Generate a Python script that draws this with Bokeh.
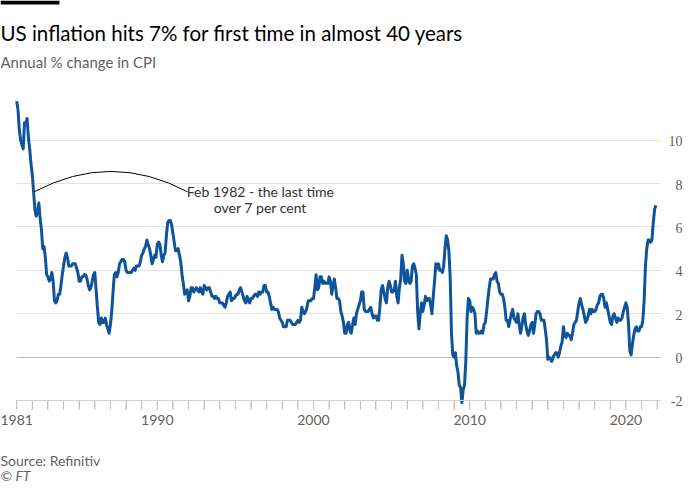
from bokeh.plotting import figure
from bokeh.models import (ColumnDataSource, FixedTicker, Label, LabelSet, BoxAnnotation, Grid)
from bokeh.embed import file_html
from bokeh.resources import INLINE

# ---- data: US CPI, annual % change, monthly Jan 1981 - Dec 2021 ----
start_year = 1981
cpi = [
    # 1981
    11.8, 11.4, 10.5, 10.0, 9.8, 9.6, 10.8, 10.8, 11.0, 10.1, 9.6, 8.9,
    # 1982
    8.4, 7.6, 6.8, 6.5, 6.7, 7.1, 6.4, 5.9, 5.0, 5.1, 4.6, 3.8,
    # 1983
    3.7, 3.5, 3.6, 3.9, 3.5, 2.6, 2.5, 2.6, 2.9, 2.9, 3.3, 3.8,
    # 1984
    4.2, 4.6, 4.8, 4.6, 4.2, 4.2, 4.2, 4.3, 4.3, 4.3, 4.1, 3.9,
    # 1985
    3.5, 3.5, 3.7, 3.7, 3.8, 3.8, 3.6, 3.3, 3.1, 3.2, 3.5, 3.8,
    # 1986
    3.9, 3.1, 2.3, 1.6, 1.5, 1.8, 1.6, 1.6, 1.8, 1.5, 1.3, 1.1,
    # 1987
    1.5, 2.1, 3.0, 3.8, 3.9, 3.7, 3.9, 4.3, 4.4, 4.5, 4.5, 4.4,
    # 1988
    4.0, 3.9, 3.9, 3.9, 3.9, 4.0, 4.1, 4.0, 4.2, 4.2, 4.2, 4.4,
    # 1989
    4.7, 4.8, 5.0, 5.1, 5.4, 5.2, 5.0, 4.7, 4.3, 4.5, 4.7, 4.6,
    # 1990
    5.2, 5.3, 5.2, 4.7, 4.4, 4.7, 4.8, 5.6, 6.2, 6.3, 6.3, 6.1,
    # 1991
    5.7, 5.3, 4.9, 4.9, 5.0, 4.7, 4.4, 3.8, 3.4, 2.9, 3.0, 3.1,
    # 1992
    2.6, 2.8, 3.2, 3.2, 3.0, 3.1, 3.2, 3.1, 3.0, 3.2, 3.0, 2.9,
    # 1993
    3.3, 3.2, 3.1, 3.2, 3.2, 3.0, 2.8, 2.8, 2.7, 2.8, 2.7, 2.7,
    # 1994
    2.5, 2.5, 2.5, 2.4, 2.3, 2.5, 2.8, 2.9, 3.0, 2.6, 2.7, 2.7,
    # 1995
    2.8, 2.9, 2.9, 3.1, 3.2, 3.0, 2.8, 2.6, 2.5, 2.8, 2.6, 2.5,
    # 1996
    2.7, 2.7, 2.8, 2.9, 2.9, 2.8, 3.0, 2.9, 3.0, 3.0, 3.3, 3.3,
    # 1997
    3.0, 3.0, 2.8, 2.5, 2.2, 2.3, 2.2, 2.2, 2.2, 2.1, 1.8, 1.7,
    # 1998
    1.6, 1.4, 1.4, 1.4, 1.7, 1.7, 1.7, 1.6, 1.5, 1.5, 1.5, 1.6,
    # 1999
    1.7, 1.6, 1.7, 2.3, 2.1, 2.0, 2.1, 2.3, 2.6, 2.6, 2.6, 2.7,
    # 2000
    2.7, 3.2, 3.8, 3.1, 3.2, 3.7, 3.7, 3.4, 3.5, 3.4, 3.4, 3.4,
    # 2001
    3.7, 3.5, 2.9, 3.3, 3.6, 3.2, 2.7, 2.7, 2.6, 2.1, 1.9, 1.6,
    # 2002
    1.1, 1.1, 1.5, 1.6, 1.2, 1.1, 1.5, 1.8, 1.5, 2.0, 2.2, 2.4,
    # 2003
    2.6, 3.0, 3.0, 2.2, 2.1, 2.1, 2.1, 2.2, 2.3, 2.0, 1.8, 1.9,
    # 2004
    1.9, 1.7, 1.7, 2.3, 3.1, 3.3, 3.0, 2.7, 2.5, 3.2, 3.5, 3.3,
    # 2005
    3.0, 3.0, 3.1, 3.5, 2.8, 2.5, 3.2, 3.6, 4.7, 4.3, 3.5, 3.4,
    # 2006
    4.0, 3.6, 3.4, 3.5, 4.2, 4.3, 4.1, 3.8, 2.1, 1.3, 2.0, 2.5,
    # 2007
    2.1, 2.4, 2.8, 2.6, 2.7, 2.7, 2.4, 2.0, 2.8, 3.5, 4.3, 4.1,
    # 2008
    4.3, 4.0, 4.0, 3.9, 4.2, 5.0, 5.6, 5.4, 4.9, 3.7, 1.1, 0.1,
    # 2009
    0.0, 0.2, -0.4, -0.7, -1.3, -1.4, -2.1, -1.5, -1.3, -0.2, 1.8, 2.7,
    # 2010
    2.6, 2.1, 2.3, 2.2, 2.0, 1.1, 1.2, 1.1, 1.1, 1.2, 1.1, 1.5,
    # 2011
    1.6, 2.1, 2.7, 3.2, 3.6, 3.6, 3.6, 3.8, 3.9, 3.5, 3.4, 3.0,
    # 2012
    2.9, 2.9, 2.7, 2.3, 1.7, 1.7, 1.4, 1.7, 2.0, 2.2, 1.8, 1.7,
    # 2013
    1.6, 2.0, 1.5, 1.1, 1.4, 1.8, 2.0, 1.5, 1.2, 1.0, 1.2, 1.5,
    # 2014
    1.6, 1.1, 1.5, 2.0, 2.1, 2.1, 2.0, 1.7, 1.7, 1.7, 1.3, 0.8,
    # 2015
    -0.1, 0.0, -0.1, -0.2, 0.0, 0.1, 0.2, 0.2, 0.0, 0.2, 0.5, 0.7,
    # 2016
    1.4, 1.0, 0.9, 1.1, 1.0, 1.0, 0.8, 1.1, 1.5, 1.6, 1.7, 2.1,
    # 2017
    2.5, 2.7, 2.4, 2.2, 1.9, 1.6, 1.7, 1.9, 2.2, 2.0, 2.2, 2.1,
    # 2018
    2.1, 2.2, 2.4, 2.5, 2.8, 2.9, 2.9, 2.7, 2.3, 2.5, 2.2, 1.9,
    # 2019
    1.6, 1.5, 1.9, 2.0, 1.8, 1.6, 1.8, 1.7, 1.7, 1.8, 2.1, 2.3,
    # 2020
    2.5, 2.3, 1.5, 0.3, 0.1, 0.6, 1.0, 1.3, 1.4, 1.2, 1.2, 1.4,
    # 2021
    1.4, 1.7, 2.6, 4.2, 5.0, 5.4, 5.4, 5.3, 5.4, 6.2, 6.8, 7.0,
]
dates = [start_year + i / 12 for i in range(len(cpi))]

x_labels = [1981, 1990, 2000, 2010, 2020]
x_minor = list(range(1981, 2023))
y_ticks = [-2, 0, 2, 4, 6, 8, 10]
y_tick_labels = [str(v) for v in y_ticks]

title = "US inflation hits 7% for first time in almost 40 years"
subtitle = "Annual % change in CPI"
source = "Source: Refinitiv"
credit = "\u00a9 FT"
note_lines = ["Feb 1982 - the last time", "over 7 per cent"]

# annotation geometry (data units)
arc_start = (1982.12, 7.62)
arc_end = (1991.94, 7.62)
arc_ctrl = (1987.03, 9.5)
note_x = 1996.6
note_y = [7.62, 6.89]

# plotting extents (data units)
X_START, X_END = 1979.963, 2023.75
GRID_X = (1981.0, 2022.22)
YLABEL_X = 2023.62
Y_START, Y_END = -5.873, 16.44
AXIS_AT = -2
TICK_LEN = 0.42   # tick length in data units (about 9px)

FONT = "Lato"
BLUE = "#0f5499"
GRID = "#e6e2de"
BASE = "#d6d0ca"
ZERO = "#c4bdb6"
TICK = "#c8c1bb"
TEXT = "#33302e"
MUTED = "#66605c"

W, H = 684, 484

p = figure(width=W, height=H, output_backend="svg", toolbar_location=None,
           x_range=(X_START, X_END), y_range=(Y_START, Y_END),
           min_border_left=0, min_border_right=0,
           min_border_top=0, min_border_bottom=0,
           background_fill_color="white", border_fill_color="white",
           outline_line_color=None)

# axes
p.yaxis.visible = False
xa = p.xaxis[0]
xa.fixed_location = AXIS_AT
if "background_fill_color" in xa.properties():
    xa.background_fill_color = None
xa.ticker = FixedTicker(ticks=x_labels, minor_ticks=x_minor)
xa.axis_line_color = BASE
xa.axis_line_width = 1
xa.major_tick_line_color = TICK
xa.minor_tick_line_color = TICK
xa.major_tick_out = 9
xa.major_tick_in = 0
xa.minor_tick_out = 9
xa.minor_tick_in = 0
xa.bounds = GRID_X
xa.major_label_standoff = 6
xa.major_label_text_font = FONT
xa.major_label_text_font_size = "14px"
xa.major_label_text_color = MUTED

p.xgrid.visible = False
p.ygrid.visible = False
main_grid = Grid(dimension=1, ticker=FixedTicker(ticks=[t for t in y_ticks if t > 0]),
                 grid_line_color=GRID, grid_line_width=1, cross_bounds=GRID_X)
zero_grid = Grid(dimension=1, ticker=FixedTicker(ticks=[0]), grid_line_color=ZERO,
                 grid_line_width=1, cross_bounds=GRID_X)
p.add_layout(main_grid)
p.add_layout(zero_grid)

src = ColumnDataSource(dict(x=dates, y=cpi))
p.line("x", "y", source=src, line_color=BLUE, line_width=3, line_join="round")

# baseline and year ticks drawn as glyphs as well
p.segment(x0=[GRID_X[0]], y0=[AXIS_AT], x1=[GRID_X[1]], y1=[AXIS_AT],
          line_color=BASE, line_width=1, level="overlay")
p.segment(x0=x_minor, y0=[AXIS_AT] * len(x_minor), x1=x_minor,
          y1=[AXIS_AT - TICK_LEN] * len(x_minor), line_color=TICK, line_width=1,
          level="overlay")

# right-aligned y tick labels
ylab = ColumnDataSource(dict(x=[YLABEL_X] * len(y_ticks), y=y_ticks, t=y_tick_labels))
p.add_layout(LabelSet(x="x", y="y", text="t", source=ylab,
                      text_align="right", text_baseline="middle", y_offset=-1,
                      text_font=FONT, text_font_size="14px", text_color=MUTED))

# annotation arc + note
p.quadratic(x0=[arc_start[0]], y0=[arc_start[1]], x1=[arc_end[0]], y1=[arc_end[1]],
            cx=[arc_ctrl[0]], cy=[arc_ctrl[1]], line_color="black", line_width=1)
for t, yy in zip(note_lines, note_y):
    p.add_layout(Label(x=note_x, y=yy, text=t, text_align="center",
                       text_baseline="alphabetic", text_font=FONT,
                       text_font_size="14px", text_color=TEXT))

# header / footer (screen units within the frame, y measured up from the bottom)
p.add_layout(BoxAnnotation(left=0, right=59, top=H, bottom=H - 4,
                           left_units="screen", right_units="screen",
                           top_units="screen", bottom_units="screen",
                           fill_color="black", fill_alpha=1, line_color=None))
p.add_layout(Label(x=0, y=H - 32, x_units="screen", y_units="screen",
                   text=title, text_font=FONT, text_font_size="20.5px", text_color="black",
                   text_baseline="alphabetic"))
p.add_layout(Label(x=0, y=H - 61, x_units="screen", y_units="screen",
                   text=subtitle, text_font=FONT, text_font_size="15px", text_color=MUTED,
                   text_baseline="alphabetic"))
p.add_layout(Label(x=0, y=24, x_units="screen", y_units="screen",
                   text=source, text_font=FONT, text_font_size="14px", text_color=MUTED,
                   text_baseline="alphabetic"))
p.add_layout(Label(x=0, y=9, x_units="screen", y_units="screen",
                   text=credit, text_font=FONT, text_font_size="14px", text_color=MUTED,
                   text_font_style="italic", text_baseline="alphabetic"))

open("out.html", "w").write(file_html(p, INLINE))
